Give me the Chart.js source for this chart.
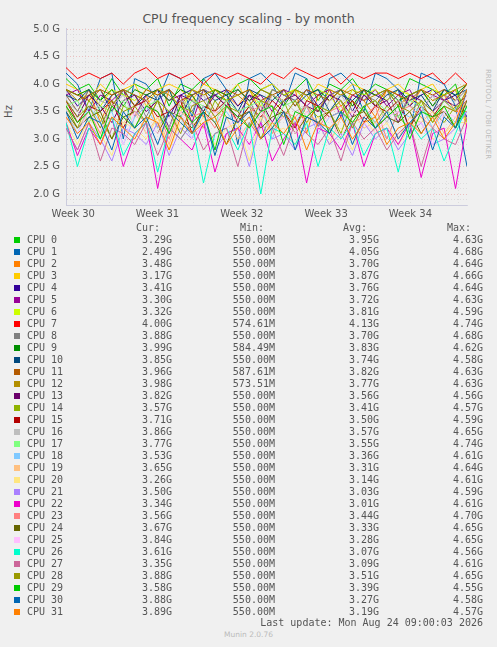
<!DOCTYPE html>
<html><head><meta charset="utf-8">
<script src="https://cdn.jsdelivr.net/npm/chart.js@4"></script>
<style>
body{margin:0;background:#f0f0f0;width:497px;height:647px;position:relative;font-family:"DejaVu Sans",sans-serif;overflow:hidden}
#wrap{position:absolute;left:0;top:0;width:497px;height:223px}
.t{position:absolute;color:#555}
#leg{position:absolute;left:0;top:222px;font-family:"DejaVu Sans Mono",monospace;font-size:10px;color:#555}
.r{position:absolute;white-space:pre;height:12px;line-height:12px}
.v{position:absolute;white-space:pre;height:12px;line-height:12px;text-align:right;width:100px}
.sq{position:absolute;width:6px;height:6px;left:14px}
</style></head><body>
<div class="t" style="left:0;width:497px;top:11px;text-align:center;font-size:12.5px">CPU frequency scaling - by month</div>
<div class="t" style="left:2px;top:106px;font-size:10px;transform:rotate(-90deg)">Hz</div>
<div class="t" style="left:438px;top:110px;font-size:7px;color:#bbb;transform:rotate(90deg);white-space:nowrap;width:100px;text-align:center">RRDTOOL / TOBI OETIKER</div>
<div id="wrap"><canvas id="c"></canvas></div>
<div id="leg"></div>
<div class="t" style="right:14px;top:617px;font-family:'DejaVu Sans Mono',monospace;font-size:10px;line-height:12px">Last update: Mon Aug 24 09:00:03 2026</div>
<div class="t" style="left:0;width:497px;text-align:center;top:630px;font-size:7.5px;color:#bbb">Munin 2.0.76</div>
<script>
const names=[];for(let i=0;i<32;i++)names.push("CPU "+i);
const colors=["#00CC00","#0066B3","#FF8000","#FFCC00","#330099","#990099","#CCFF00","#FF0000","#808080","#008F00","#00487D","#B35A00","#B38F00","#6B006B","#8FB300","#B30000","#BEBEBE","#80FF80","#80C9FF","#FFC080","#FFE680","#AA80FF","#EE00CC","#FF8080","#666600","#FFBFFF","#00FFCC","#CC6699","#999900","#00CC00","#0066B3","#FF8000"];
const curV=["3.29G","2.49G","3.48G","3.17G","3.41G","3.30G","3.32G","4.00G","3.88G","3.99G","3.85G","3.96G","3.98G","3.82G","3.57G","3.71G","3.86G","3.77G","3.53G","3.65G","3.26G","3.50G","3.34G","3.56G","3.67G","3.84G","3.61G","3.35G","3.88G","3.58G","3.88G","3.89G"];
const minV=["550.00M","550.00M","550.00M","550.00M","550.00M","550.00M","550.00M","574.61M","550.00M","584.49M","550.00M","587.61M","573.51M","550.00M","550.00M","550.00M","550.00M","550.00M","550.00M","550.00M","550.00M","550.00M","550.00M","550.00M","550.00M","550.00M","550.00M","550.00M","550.00M","550.00M","550.00M","550.00M"];
const avgV=["3.95G","4.05G","3.70G","3.87G","3.76G","3.72G","3.81G","4.13G","3.70G","3.83G","3.74G","3.82G","3.77G","3.56G","3.41G","3.50G","3.57G","3.55G","3.36G","3.31G","3.14G","3.03G","3.01G","3.44G","3.33G","3.28G","3.07G","3.09G","3.51G","3.39G","3.27G","3.19G"];
const maxV=["4.63G","4.68G","4.64G","4.66G","4.64G","4.63G","4.59G","4.74G","4.68G","4.62G","4.58G","4.63G","4.63G","4.56G","4.57G","4.59G","4.65G","4.74G","4.61G","4.64G","4.61G","4.59G","4.61G","4.70G","4.65G","4.65G","4.56G","4.61G","4.65G","4.55G","4.58G","4.57G"];
const weekLabels=["Week 30","Week 31","Week 32","Week 33","Week 34"];
const s0=[4.1,3.9,4.0,3.7,4.1,3.8,4.0,3.9,4.1,3.6,4.0,3.9,4.1,3.8,3.7,4.0,4.1,3.9,4.0,3.8,3.9,4.1,3.7,4.0,3.9,4.1,3.8,4.0,3.9,3.6,4.1,4.0,3.9,3.8,4.0,3.3];
const s1=[4.2,4.0,3.5,4.1,4.2,3.0,4.1,4.0,3.7,4.2,4.1,3.4,4.1,4.2,3.9,2.9,4.1,4.2,4.0,3.6,4.2,4.1,3.2,4.1,4.2,4.0,3.5,4.2,4.1,3.9,3.1,4.2,4.1,4.0,3.6,2.5];
const s2=[3.8,3.5,3.9,3.3,3.8,3.9,3.6,3.8,3.2,3.9,3.7,3.8,3.4,3.9,3.8,3.6,3.9,3.5,3.8,3.7,3.9,3.1,3.8,3.9,3.6,3.8,3.7,3.4,3.9,3.8,3.6,3.9,3.7,3.8,3.5,3.5];
const s3=[4.0,3.9,3.7,4.0,3.8,3.9,4.0,3.6,3.9,4.0,3.9,3.7,4.0,3.9,3.8,4.0,3.6,3.9,4.0,3.8,3.9,3.7,4.0,3.9,3.8,4.0,3.9,3.6,3.9,4.0,3.8,3.9,4.0,3.7,3.9,3.2];
const s4=[3.9,3.6,3.8,3.9,3.5,3.9,3.8,3.7,3.9,3.4,3.8,3.9,3.7,3.8,3.9,3.6,3.8,3.5,3.9,3.8,3.7,3.9,3.6,3.8,3.9,3.5,3.9,3.8,3.7,3.9,3.6,3.8,3.9,3.7,3.8,3.4];
const s5=[3.8,3.9,3.5,3.8,3.7,3.9,3.4,3.8,3.9,3.7,3.8,3.3,3.9,3.8,3.6,3.9,3.7,3.8,3.5,3.9,3.8,3.6,3.8,3.9,3.4,3.8,3.7,3.9,3.6,3.8,3.9,3.5,3.8,3.7,3.9,3.3];
const s6=[3.9,3.8,3.9,3.6,3.9,3.8,3.7,3.9,3.8,3.9,3.5,3.9,3.8,3.9,3.7,3.8,3.9,3.6,3.9,3.8,3.9,3.7,3.9,3.8,3.5,3.9,3.8,3.9,3.7,3.9,3.8,3.6,3.9,3.8,3.9,3.3];
const s7=[4.3,4.1,4.2,4.1,4.2,4.0,4.2,4.3,4.1,4.2,4.1,4.2,4.0,4.2,4.1,4.2,4.1,4.0,4.2,4.1,4.3,4.2,4.1,4.2,4.0,4.2,4.1,4.2,4.2,4.1,4.2,4.1,4.2,4.0,4.2,4.0];
const s8=[3.8,3.5,3.9,3.7,3.6,3.9,3.8,3.4,3.8,3.9,3.7,3.5,3.9,3.8,3.6,3.9,3.7,3.3,3.9,3.8,3.7,3.9,3.5,3.8,3.9,3.6,3.8,3.7,3.9,3.4,3.8,3.9,3.6,3.8,3.7,3.9];
const s9=[3.9,3.8,3.9,3.7,3.9,3.6,3.9,3.8,3.9,3.7,3.9,3.8,3.5,3.9,3.8,3.9,3.7,3.9,3.8,3.6,3.9,3.8,3.9,3.7,3.9,3.6,3.9,3.8,3.9,3.7,3.8,3.9,3.6,3.9,3.8,4.0];
const s10=[3.8,3.7,3.9,3.5,3.8,3.9,3.6,3.8,3.7,3.9,3.4,3.8,3.9,3.7,3.8,3.5,3.9,3.8,3.7,3.9,3.6,3.8,3.9,3.5,3.8,3.7,3.9,3.6,3.8,3.9,3.7,3.8,3.5,3.9,3.8,3.9];
const s11=[3.9,3.8,3.7,3.9,3.8,3.9,3.6,3.9,3.8,3.9,3.7,3.8,3.9,3.5,3.9,3.8,3.9,3.7,3.8,3.9,3.6,3.9,3.8,3.7,3.9,3.8,3.9,3.6,3.9,3.8,3.7,3.9,3.8,3.9,3.7,4.0];
const s12=[3.9,3.7,3.8,3.9,3.6,3.9,3.8,3.7,3.9,3.8,3.6,3.9,3.8,3.9,3.7,3.8,3.6,3.9,3.8,3.7,3.9,3.8,3.5,3.9,3.8,3.9,3.7,3.8,3.9,3.6,3.8,3.9,3.7,3.8,3.9,4.0];
const s13=[3.7,3.4,3.8,3.6,3.3,3.7,3.8,3.5,3.7,3.2,3.8,3.7,3.5,3.8,3.6,3.4,3.8,3.7,3.3,3.7,3.8,3.6,3.5,3.8,3.7,3.4,3.8,3.6,3.7,3.3,3.8,3.7,3.5,3.7,3.6,3.8];
const s14=[3.6,3.2,3.7,3.4,3.0,3.6,3.5,3.3,3.7,3.1,3.6,3.5,3.2,3.7,3.4,3.3,3.6,3.0,3.5,3.7,3.2,3.6,3.4,3.5,3.1,3.7,3.5,3.3,3.6,3.4,3.2,3.7,3.5,3.3,3.6,3.6];
const s15=[3.7,3.3,3.6,3.5,3.7,3.2,3.6,3.7,3.4,3.5,3.7,3.1,3.6,3.5,3.7,3.3,3.6,3.4,3.7,3.5,3.2,3.7,3.6,3.4,3.5,3.7,3.3,3.6,3.5,3.7,3.2,3.6,3.4,3.7,3.5,3.7];
const s16=[3.7,3.5,3.3,3.7,3.6,3.8,3.4,3.7,3.5,3.2,3.7,3.6,3.8,3.4,3.7,3.5,3.6,3.3,3.8,3.7,3.5,3.6,3.2,3.7,3.8,3.5,3.6,3.7,3.3,3.7,3.6,3.5,3.8,3.4,3.7,3.9];
const s17=[3.6,3.7,3.3,3.6,3.5,3.7,3.2,3.6,3.7,3.5,3.4,3.7,3.6,3.3,3.7,3.5,3.6,3.7,3.2,3.6,3.7,3.4,3.6,3.5,3.7,3.3,3.6,3.7,3.5,3.4,3.7,3.6,3.3,3.7,3.5,3.8];
const s18=[3.5,3.1,3.6,3.3,3.5,2.9,3.4,3.6,3.2,3.5,3.4,3.0,3.6,3.3,3.5,3.2,3.4,3.6,3.0,3.5,3.3,3.6,3.1,3.4,3.5,3.2,3.6,3.3,3.0,3.5,3.4,3.6,3.2,3.5,3.3,3.5];
const s19=[3.4,3.2,3.5,3.0,3.4,3.3,3.5,3.1,3.4,2.9,3.5,3.3,3.2,3.5,3.4,3.0,3.3,3.5,3.2,3.4,3.1,3.5,3.3,2.9,3.4,3.5,3.2,3.3,3.5,3.0,3.4,3.3,3.5,3.1,3.4,3.7];
const s20=[3.3,2.9,3.4,3.1,2.7,3.3,3.2,3.0,3.4,2.8,3.3,3.1,3.4,2.9,3.2,3.3,2.6,3.4,3.1,3.2,2.9,3.3,3.4,3.0,3.2,2.8,3.4,3.1,3.3,2.9,3.2,3.4,3.0,3.1,3.3,3.3];
const s21=[3.2,2.8,3.3,3.0,2.6,3.2,3.1,2.9,3.3,2.7,3.2,3.0,3.3,2.8,3.1,3.2,2.5,3.3,3.0,3.1,2.8,3.2,3.3,2.9,3.1,2.7,3.3,3.0,3.2,2.8,3.1,3.3,2.9,3.0,3.2,3.5];
const s22=[3.3,2.7,3.2,2.9,3.4,2.5,3.1,3.3,2.1,3.2,3.0,2.8,3.3,2.4,3.1,3.2,2.9,3.3,2.6,3.0,3.3,2.2,3.2,3.1,2.8,3.3,2.5,3.1,3.2,2.9,3.3,2.3,3.1,3.2,2.1,3.3];
const s23=[3.6,3.3,3.5,3.1,3.6,3.4,3.2,3.6,3.5,3.0,3.6,3.4,3.5,3.2,3.6,3.3,3.5,3.6,3.1,3.5,3.4,3.6,3.2,3.5,3.6,3.3,3.4,3.6,3.0,3.5,3.6,3.4,3.2,3.6,3.5,3.6];
const s24=[3.5,3.2,3.4,3.5,3.0,3.4,3.5,3.3,3.1,3.5,3.4,3.2,3.5,3.3,2.9,3.4,3.5,3.2,3.4,3.5,3.1,3.4,3.3,3.5,3.0,3.4,3.5,3.2,3.4,3.3,3.5,3.1,3.4,3.5,3.2,3.7];
const s25=[3.4,3.1,3.5,3.2,3.4,2.9,3.5,3.3,3.1,3.4,3.5,3.0,3.3,3.5,3.2,3.4,2.8,3.5,3.3,3.4,3.1,3.5,3.2,3.4,3.0,3.5,3.3,3.1,3.4,3.5,3.2,3.3,2.9,3.5,3.4,3.8];
const s26=[3.3,2.5,3.2,3.0,3.4,2.7,3.1,3.3,2.4,3.2,3.0,3.3,2.2,3.1,3.2,2.8,3.3,2.0,3.2,3.1,2.9,3.3,2.5,3.2,3.0,3.3,2.7,3.1,3.2,2.4,3.3,3.0,3.2,2.6,3.1,3.6];
const s27=[3.2,2.8,3.3,2.6,3.2,3.1,2.9,3.3,2.7,3.2,3.0,3.3,2.8,3.1,3.2,2.5,3.3,3.0,3.2,2.7,3.3,3.1,2.9,3.2,2.6,3.3,3.0,3.2,2.8,3.1,3.3,2.5,3.2,3.0,2.9,3.4];
const s28=[3.7,3.4,3.6,3.2,3.7,3.5,3.6,3.3,3.7,3.5,3.1,3.6,3.7,3.4,3.6,3.5,3.2,3.7,3.6,3.4,3.7,3.3,3.6,3.5,3.7,3.2,3.6,3.7,3.4,3.6,3.5,3.7,3.3,3.6,3.5,3.9];
const s29=[3.6,3.3,3.5,3.0,3.6,3.4,3.2,3.6,3.5,3.1,3.6,3.3,3.5,2.8,3.6,3.4,3.2,3.5,3.6,2.9,3.5,3.4,3.6,3.1,3.5,3.3,3.6,3.2,3.4,3.6,3.0,3.5,3.4,3.6,3.2,3.6];
const s30=[3.5,3.0,3.4,3.3,2.8,3.5,3.2,3.4,2.9,3.5,3.3,3.1,3.5,2.7,3.4,3.3,3.5,3.0,3.2,3.5,2.8,3.4,3.3,3.1,3.5,2.9,3.4,3.2,3.5,3.0,3.3,3.5,2.8,3.4,3.2,3.9];
const s31=[3.4,3.1,3.3,2.9,3.4,3.2,3.0,3.4,3.3,2.8,3.4,3.1,3.3,3.4,2.9,3.2,3.4,3.0,3.3,3.1,3.4,2.8,3.3,3.2,3.4,3.0,3.3,3.4,2.9,3.2,3.3,3.1,3.4,3.0,3.3,3.9];
const series=[s0,s1,s2,s3,s4,s5,s6,s7,s8,s9,s10,s11,s12,s13,s14,s15,s16,s17,s18,s19,s20,s21,s22,s23,s24,s25,s26,s27,s28,s29,s30,s31];
const xMin=-0.6,xMax=32.7,nPts=s0.length;
const days=s0.map((_,i)=>xMin+i*(xMax-xMin)/(nPts-1));

const leg=document.getElementById('leg');
let h='<div class="r" style="left:136px;top:0">Cur:</div><div class="r" style="left:240px;top:0">Min:</div><div class="r" style="left:343px;top:0">Avg:</div><div class="r" style="left:447px;top:0">Max:</div>';
names.forEach((n,i)=>{
 const top=(i+1)*12;
 h+=`<div class="sq" style="background:${colors[i]};top:${top+3}px"></div>`;
 h+=`<div class="r" style="left:27px;top:${top}px">${n}</div>`;
 h+=`<div class="v" style="top:${top}px;left:72px">${curV[i]}</div>`;
 h+=`<div class="v" style="top:${top}px;left:175px">${minV[i]}</div>`;
 h+=`<div class="v" style="top:${top}px;left:279px">${avgV[i]}</div>`;
 h+=`<div class="v" style="top:${top}px;left:383px">${maxV[i]}</div>`;
});
leg.innerHTML=h;

new Chart(document.getElementById('c'),{
 type:'line',
 data:{datasets:series.map((s,i)=>({label:names[i],data:s.map((v,j)=>({x:days[j],y:v})),borderColor:colors[i],borderWidth:1,pointRadius:0,tension:0,order:31-i}))},
 options:{responsive:true,maintainAspectRatio:false,animation:false,
  layout:{padding:{left:0,right:30,top:28,bottom:0}},
  plugins:{legend:{display:false},tooltip:{enabled:false}},
  scales:{
   x:{type:'linear',min:xMin,max:xMax,
    afterBuildTicks:a=>{a.ticks=[];for(let d=0;d<=32;d++)a.ticks.push({value:d});},
    ticks:{autoSkip:false,maxRotation:0,font:{size:10,family:'DejaVu Sans'},color:'#555',padding:3,
     callback:v=>(v%7===0&&v/7<weekLabels.length)?weekLabels[v/7]:''},
    grid:{color:'rgba(200,200,200,0.8)',lineWidth:0.6,drawTicks:false,tickLength:0},
    border:{color:'#ccd',dash:[1,2]}},
   y:{min:1.8,max:5.02,
    afterBuildTicks:a=>{a.ticks=[];for(let v=18;v<=50;v++)a.ticks.push({value:v/10});},
    ticks:{autoSkip:false,font:{size:10,family:'DejaVu Sans'},color:'#555',padding:6,
     callback:v=>{const k=Math.round(v*10);return k%5===0?(k/10).toFixed(1)+' G':'';}},
    afterFit:a=>{a.width=66;},
    grid:{color:c=>(c.tick&&Math.round(c.tick.value*10)%5===0)?'rgba(230,150,150,0.9)':'rgba(200,200,200,0.8)',lineWidth:0.6,drawTicks:false},
    border:{dash:[1,2],color:'#ccd'}}
  }}
});
</script></body></html>
